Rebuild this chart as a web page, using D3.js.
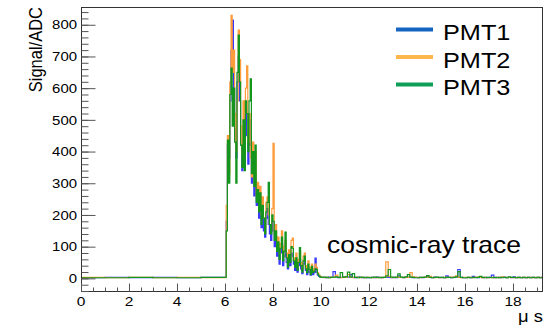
<!DOCTYPE html>
<html>
<head>
<meta charset="utf-8">
<script src="https://cdn.jsdelivr.net/npm/d3@7"></script>
<style>
  html, body { margin: 0; padding: 0; background: #fff; }
  svg { display: block; }
  text { font-family: "Liberation Sans", Arial, Helvetica, sans-serif; fill: #000; }
</style>
</head>
<body>
<svg id="chart" width="556" height="325"></svg>
<script>
// ---------------- data ----------------
const seriesNames = ["PMT1", "PMT2", "PMT3"];
const traceColors = ["#3a3aff", "#ff9d3c", "#14961e"];
const legendColors = ["#1565c0", "#ffb74d", "#109d58"];

// sample times (µs)
const timeUs = [
  0, 1, 2, 3, 4, 5,
  6.00,6.05,6.10,6.15,6.20,6.25,6.30,6.35,6.40,6.45,
  6.50,6.55,6.60,6.65,6.70,6.75,6.80,6.85,6.90,6.95,
  7.00,7.05,7.10,7.15,7.20,7.25,7.30,7.35,7.40,7.45,
  7.50,7.55,7.60,7.65,7.70,7.75,7.80,7.85,7.90,7.95,
  8.00,8.05,8.10,8.15,8.20,8.25,8.30,8.35,8.40,8.45,
  8.50,8.55,8.60,8.65,8.70,8.75,8.80,8.85,8.90,8.95,
  9.00,9.05,9.10,9.15,9.20,9.25,9.30,9.35,9.40,9.45,
  9.50,9.55,9.60,9.65,9.70,9.75,9.80,9.85,9.90,9.95,
  10.0,
  10.1,10.2,10.3,10.4,10.5,10.6,10.7,10.8,10.9,
  11.0,11.1,11.2,11.3,11.4,11.5,11.6,11.7,11.8,11.9,
  12.0,12.1,12.2,12.3,12.4,12.5,12.6,12.7,12.8,12.9,
  13.0,13.1,13.2,13.3,13.4,13.5,13.6,13.7,13.8,13.9,
  14.0,14.1,14.2,14.3,14.4,14.5,14.6,14.7,14.8,14.9,
  15.0,15.1,15.2,15.3,15.4,15.5,15.6,15.7,15.8,15.9,
  16.0,16.1,16.2,16.3,16.4,16.5,16.6,16.7,16.8,16.9,
  17.0,17.1,17.2,17.3,17.4,17.5,17.6,17.7,17.8,17.9,
  18.0,18.1,18.2,18.3,18.4,18.5,18.6,18.7,18.8,18.9,
  19.0,19.1,19.2,19.3
];

const pmt1 = [
  2,3,2,3,2,3,
  3,180,420,380,560,720,815,600,470,380,
  620,700,560,420,340,470,380,540,450,360,
  500,420,300,350,260,330,230,270,190,240,
  160,210,150,130,190,220,170,140,120,180,
  150,100,130,70,100,45,80,110,40,70,
  90,50,30,60,40,80,70,45,25,50,
  20,40,60,30,15,45,60,25,12,35,
  20,10,28,12,18,64,20,10,6,4,
  3,
  3,2,4,3,21,4,2,3,5,
  3,4,12,3,2,4,3,2,3,2,
  2,3,2,4,3,2,3,4,3,2,
  3,2,8,3,2,3,4,3,2,3,
  2,3,2,3,6,3,2,4,3,2,
  3,2,8,3,2,3,4,28,3,2,
  2,3,2,6,3,2,3,2,3,2,
  3,10,2,3,2,3,4,2,3,2,
  5,2,3,2,3,2,3,2,3,2,
  3,2,3,3
];

const pmt2 = [
  3,2,3,2,3,2,
  3,230,450,330,620,830,650,720,520,400,
  560,783,690,480,390,560,420,600,670,430,
  520,380,320,430,300,400,260,303,240,290,
  200,257,190,160,240,257,200,170,150,220,
  426,140,170,100,130,80,110,150,70,100,
  120,80,45,90,60,120,127,65,45,80,
  35,60,85,50,30,70,80,40,25,55,
  35,20,45,25,30,45,35,18,10,6,
  3,
  2,3,2,4,3,10,3,2,4,
  3,12,3,2,4,3,2,3,2,3,
  3,2,3,2,3,2,4,52,6,3,
  2,3,4,3,2,4,3,18,5,3,
  3,2,3,4,3,6,3,2,3,2,
  2,3,2,3,4,3,8,3,2,3,
  3,2,3,2,3,4,3,2,3,2,
  2,3,2,3,2,5,3,2,3,2,
  2,3,2,3,2,3,2,3,2,3,
  2,3,2,2
];

const pmt3 = [
  2,2,3,2,2,3,
  3,150,436,300,580,663,480,600,430,300,
  650,767,620,420,350,500,340,560,520,400,
  560,629,330,400,290,420,240,280,210,270,
  170,230,190,140,210,240,303,170,140,200,
  180,120,150,85,115,60,95,130,55,85,
  146,65,35,75,50,100,95,55,35,65,
  25,50,97,40,20,55,70,30,18,45,
  28,12,38,18,22,30,28,14,8,5,
  3,
  4,3,2,3,4,5,3,18,4,
  5,20,4,15,3,2,4,3,2,3,
  2,3,4,3,2,3,3,8,28,4,
  3,4,14,4,3,5,12,4,3,2,
  2,3,3,4,9,3,2,3,4,3,
  3,2,4,3,2,3,5,21,3,2,
  2,3,2,3,2,3,6,3,2,3,
  3,2,3,2,3,2,3,2,5,3,
  3,2,3,2,3,2,3,2,3,2,
  3,2,3,3
];

const xMajorTicks = [0, 2, 4, 6, 8, 10, 12, 14, 16, 18];
const yMajorTicks = [0, 100, 200, 300, 400, 500, 600, 700, 800];
const xTitle = "μ s";
const yTitle = "Signal/ADC";
const annotation = "cosmic-ray trace";

// ---------------- drawing ----------------
const svg = d3.select("#chart");
const W = 556, H = 325;
const frame = { left: 81, right: 543, top: 7, bottom: 292 };
const SX = 1.15; // horizontal glyph stretch seen in the reference

const x = d3.scaleLinear().domain([0, 19.25]).range([frame.left, frame.right]);
const y = d3.scaleLinear().domain([-43, 856]).range([frame.bottom, frame.top]);

svg.append("rect").attr("width", W).attr("height", H).attr("fill", "#fff");

svg.append("clipPath").attr("id", "clip")
  .append("rect")
  .attr("x", frame.left).attr("y", frame.top)
  .attr("width", frame.right - frame.left).attr("height", frame.bottom - frame.top);

// traces (sampled, drawn as steps like a histogram trace)
const series = [pmt1, pmt2, pmt3];
const line = d3.line()
  .x((d, i) => x(timeUs[i]))
  .y(d => y(d))
  .curve(d3.curveStepAfter);

const gTraces = svg.append("g").attr("clip-path", "url(#clip)");
series.forEach((vals, k) => {
  gTraces.append("path")
    .datum(vals)
    .attr("fill", "none")
    .attr("stroke", traceColors[k])
    .attr("stroke-width", 1.2)
    .attr("d", line);
});

// frame
svg.append("rect")
  .attr("x", frame.left + 0.5).attr("y", frame.top + 0.5)
  .attr("width", frame.right - frame.left - 1).attr("height", frame.bottom - frame.top - 1)
  .attr("fill", "none").attr("stroke", "#333").attr("stroke-width", 1);

// x axis (ticks inside, pointing up)
const xMinor = d3.range(0, 19.01, 0.5);
const xAxis = d3.axisTop(x).tickValues(xMajorTicks).tickSize(8).tickFormat("");
const xAxisMinor = d3.axisTop(x).tickValues(xMinor).tickSize(4).tickFormat("");
[xAxisMinor, xAxis].forEach(ax => {
  const g = svg.append("g").attr("transform", `translate(0,${frame.bottom - 0.5})`).call(ax);
  g.select(".domain").remove();
  g.selectAll("line").attr("stroke", "#555");
});
svg.append("g").selectAll("text")
  .data(xMajorTicks).join("text")
  .attr("transform", d => `translate(${x(d)},305.5) scale(${SX},1)`)
  .attr("text-anchor", "middle")
  .attr("font-size", 13.5)
  .text(d => d);

// y axis (ticks inside, pointing right)
const yMinor = d3.range(-40, 856, 20);
const yAxis = d3.axisRight(y).tickValues(yMajorTicks).tickSize(14).tickFormat("");
const yAxisMinor = d3.axisRight(y).tickValues(yMinor).tickSize(7).tickFormat("");
[yAxisMinor, yAxis].forEach(ax => {
  const g = svg.append("g").attr("transform", `translate(${frame.left + 0.5},0)`).call(ax);
  g.select(".domain").remove();
  g.selectAll("line").attr("stroke", "#555");
});
svg.append("g").selectAll("text")
  .data(yMajorTicks).join("text")
  .attr("transform", d => `translate(77,${y(d)}) scale(${SX},1)`)
  .attr("text-anchor", "end")
  .attr("dy", "0.36em")
  .attr("font-size", 13)
  .text(d => d);

// axis titles
svg.append("text")
  .attr("transform", `translate(42,${frame.top}) scale(${SX},1) rotate(-90)`)
  .attr("text-anchor", "end")
  .attr("font-size", 16.5)
  .text(yTitle);

svg.append("text")
  .attr("transform", `translate(${frame.right},322) scale(${SX},1)`)
  .attr("text-anchor", "end")
  .attr("font-size", 16)
  .text(xTitle);

// annotation
svg.append("text")
  .attr("transform", `translate(327,253) scale(${SX},1)`)
  .attr("font-size", 23)
  .text(annotation);

// legend
const legY = [29.5, 57, 84.5];
const leg = svg.append("g");
seriesNames.forEach((name, k) => {
  leg.append("line")
    .attr("x1", 396).attr("x2", 433)
    .attr("y1", legY[k]).attr("y2", legY[k])
    .attr("stroke", legendColors[k]).attr("stroke-width", 4);
  leg.append("text")
    .attr("transform", `translate(443,${legY[k] + 10.5}) scale(${SX},1)`)
    .attr("font-size", 22)
    .text(name);
});
</script>
</body>
</html>
